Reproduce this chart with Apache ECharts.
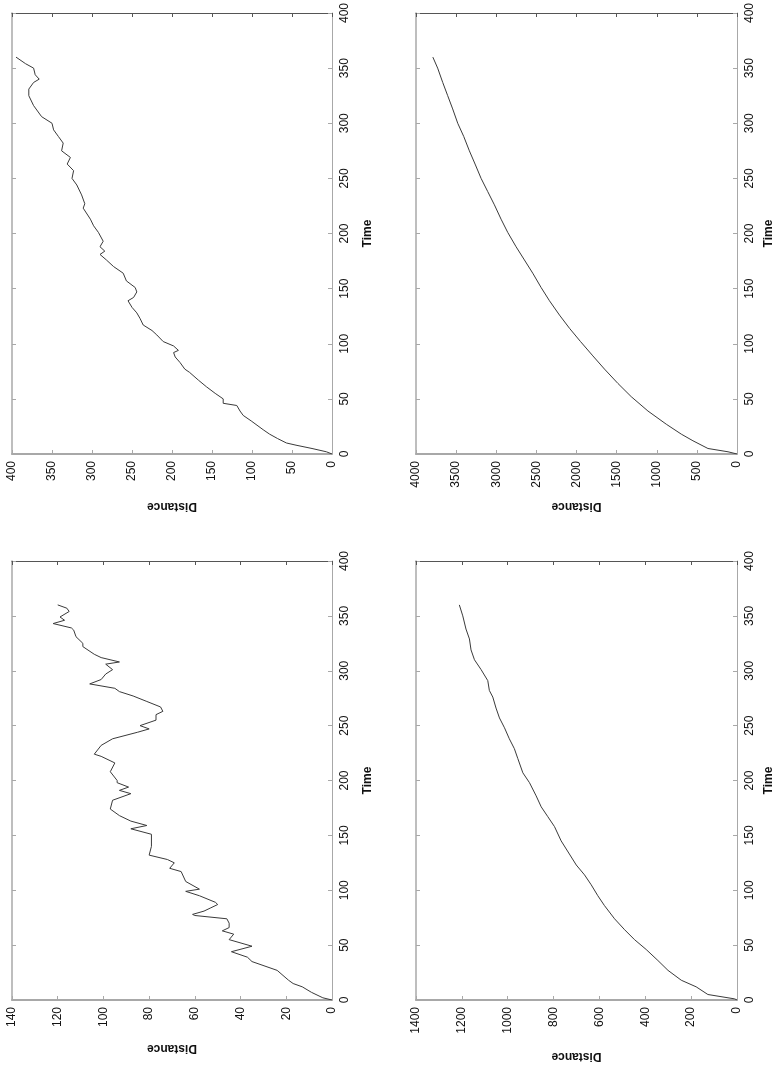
<!DOCTYPE html>
<html>
<head>
<meta charset="utf-8">
<script src="https://cdn.jsdelivr.net/npm/echarts@6/dist/echarts.min.js"></script>
<style>
html, body { margin: 0; padding: 0; background: #fff; }
#chart { width: 776px; height: 1076px; }
</style>
</head>
<body>
<div id="chart"></div>
<script>
// four runs of distance against time, page turned a quarter (time axis on the right)
var time400 = [0, 2, 5, 8, 10, 14, 18, 22, 30, 35,
               39, 44, 46, 50, 55, 61, 67, 74, 77, 83,
               88, 92, 94, 98, 102, 108, 112, 117, 123, 128,
               133, 139, 142, 147, 151, 157, 164, 170, 176, 181,
               184, 188, 193, 201, 207, 213, 223, 227, 235, 244,
               250, 257, 263, 269, 275, 282, 288, 294, 300, 306,
               316, 325, 331, 337, 340, 344, 350, 354, 360];
var dist400 = [0, 7, 25, 45, 57, 68, 78, 86, 101, 111,
               115, 119, 136, 136, 146, 157, 167, 178, 184, 190,
               196, 198, 192, 198, 211, 219, 225, 236, 240, 244,
               250, 255, 248, 244, 246, 257, 261, 273, 282, 290,
               284, 290, 286, 292, 298, 302, 311, 309, 313, 319,
               325, 323, 331, 327, 338, 336, 342, 348, 350, 363,
               373, 379, 379, 373, 366, 371, 373, 383, 395];

var time4000 = [0, 2, 5, 12, 18, 27, 39, 52, 64, 77,
                89, 102, 114, 126, 139, 151, 164, 176, 188, 201,
                213, 226, 238, 250, 263, 275, 288, 300, 313, 325,
                337, 350, 360];
var dist4000 = [0, 112, 362, 549, 694, 881, 1110, 1318, 1484, 1651,
                1796, 1950, 2087, 2212, 2337, 2441, 2545, 2649, 2753, 2857,
                2940, 3023, 3106, 3189, 3264, 3335, 3405, 3480, 3543, 3605,
                3667, 3730, 3790];

var time140 = [0, 2, 7, 12, 15, 18, 27, 35, 39, 44,
               49, 55, 60, 63, 66, 70, 74, 77, 78, 81,
               84, 87, 89, 95, 99, 101, 108, 117, 120, 125,
               128, 132, 140, 151, 156, 159, 163, 168, 174, 182,
               188, 191, 194, 198, 200, 208, 216, 222, 224, 232,
               238, 244, 247, 250, 255, 260, 263, 267, 272, 277,
               281, 284, 288, 292, 297, 301, 306, 308, 312, 315,
               322, 325, 331, 337, 339, 343, 346, 349, 354, 357,
               360];
var dist140 = [0, 4, 9, 13, 17, 19, 24, 35, 37, 44,
               35, 45, 43, 48, 45, 45, 46, 60, 61, 56,
               53, 50, 51, 58, 64, 58, 64, 66, 71, 69,
               72, 80, 79, 79, 88, 81, 88, 93, 97, 96,
               88, 93, 89, 94, 94, 97, 95, 101, 104, 101,
               96, 85, 80, 84, 77, 77, 74, 75, 81, 87,
               93, 95, 106, 101, 99, 96, 99, 93, 101, 104,
               109, 109, 112, 113, 114, 122, 117, 119, 115, 116,
               120];

var time1400 = [0, 1, 5, 12, 18, 27, 36, 46, 55, 64,
                74, 86, 95, 105, 114, 123, 133, 145, 158, 167,
                176, 186, 198, 207, 220, 229, 238, 248, 257, 266,
                276, 282, 291, 301, 310, 319, 329, 338, 350, 360];
var dist1400 = [0, 10, 127, 178, 243, 301, 345, 396, 447, 490,
                534, 578, 607, 636, 665, 701, 731, 767, 796, 825,
                854, 876, 905, 934, 956, 971, 993, 1014, 1036, 1051,
                1065, 1080, 1087, 1116, 1145, 1160, 1167, 1182, 1196, 1211];

var distMax = [400, 4000, 140, 1400];
var distStep = [50, 500, 20, 200];
var timeMax = 400;
var timeStep = 50;

var FONT = "'Liberation Sans', Arial, sans-serif";
var darkLine = '#555';
var paleLine = '#a8a8a8';

var panels = [
	{ grid: { left: 12, top: 13, width: 320, height: 441 }, t: time400, d: dist400, distGap: 46, timeGap: 30 },
	{ grid: { left: 416, top: 13, width: 321, height: 441 }, t: time4000, d: dist4000, distGap: 46, timeGap: 26 },
	{ grid: { left: 12, top: 561, width: 320, height: 439 }, t: time140, d: dist140, distGap: 42, timeGap: 30 },
	{ grid: { left: 416, top: 561, width: 321, height: 439 }, t: time1400, d: dist1400, distGap: 50, timeGap: 26 }
];

function plain(v) { return String(v); }

var grids = [], xAxes = [], yAxes = [], series = [];

panels.forEach(function (p, i) {
	var label = { rotate: 90, margin: 7, fontSize: 12, color: '#111', fontFamily: FONT, formatter: plain };
	var nameStyle = { fontSize: 12, fontWeight: 'bold', color: '#111', fontFamily: FONT };
	function edge(color, width) {
		return { show: true, onZero: false, lineStyle: { color: color, width: width } };
	}
	function ticks(color) {
		return { show: true, inside: true, length: 4, lineStyle: { color: color } };
	}

	grids.push(p.grid);

	// distance runs right to left along the bottom
	xAxes.push({
		type: 'value', gridIndex: i, position: 'bottom', inverse: true,
		min: 0, max: distMax[i], interval: distStep[i],
		name: 'Distance', nameLocation: 'middle', nameRotate: 180, nameGap: p.distGap, nameTextStyle: nameStyle,
		axisLine: edge(paleLine, 2), axisTick: ticks(paleLine), axisLabel: label, splitLine: { show: false }
	});
	xAxes.push({
		type: 'value', gridIndex: i, position: 'top', inverse: true,
		min: 0, max: distMax[i], interval: distStep[i],
		axisLine: edge(darkLine, 1), axisTick: ticks(darkLine), axisLabel: { show: false }, splitLine: { show: false }
	});

	// time runs bottom to top on the right
	yAxes.push({
		type: 'value', gridIndex: i, position: 'right',
		min: 0, max: timeMax, interval: timeStep,
		name: 'Time', nameLocation: 'middle', nameRotate: 90, nameGap: p.timeGap, nameTextStyle: nameStyle,
		axisLine: edge(paleLine, 1), axisTick: ticks(paleLine), axisLabel: label, splitLine: { show: false }
	});
	yAxes.push({
		type: 'value', gridIndex: i, position: 'left',
		min: 0, max: timeMax, interval: timeStep,
		axisLine: edge(paleLine, 1.5), axisTick: ticks(paleLine), axisLabel: { show: false }, splitLine: { show: false }
	});

	series.push({
		type: 'line', xAxisIndex: i * 2, yAxisIndex: i * 2,
		data: p.t.map(function (t, k) { return [p.d[k], t]; }),
		symbol: 'none', silent: true,
		lineStyle: { color: '#3a3a3a', width: 1 }
	});
});

var chart = echarts.init(document.getElementById('chart'));
chart.setOption({
	animation: false,
	backgroundColor: '#fff',
	grid: grids,
	xAxis: xAxes,
	yAxis: yAxes,
	series: series
});
</script>
</body>
</html>
